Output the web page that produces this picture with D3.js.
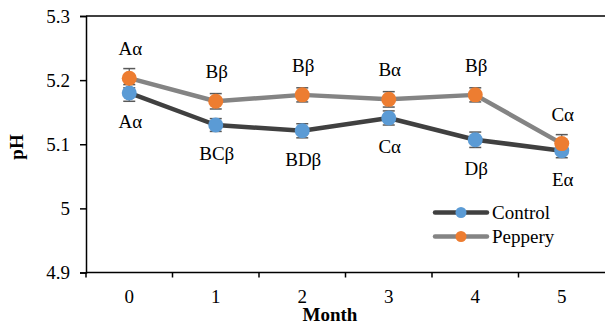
<!DOCTYPE html>
<html>
<head>
<meta charset="utf-8">
<script src="https://cdn.jsdelivr.net/npm/d3@7/dist/d3.min.js"></script>
<style>
  html, body { margin: 0; padding: 0; background: #fff; }
  svg { display: block; }
  svg text { font-family: "Liberation Serif", "DejaVu Serif", serif; }
</style>
</head>
<body>
<svg id="chart" width="606" height="325"></svg>
<script>
// pH over storage months
const months = ["0", "1", "2", "3", "4", "5"];
const controlPH = [5.180, 5.130, 5.121, 5.141, 5.107, 5.090];
const pepperyPH = [5.203, 5.167, 5.177, 5.170, 5.177, 5.101];
const controlErr = [0.013, 0.010, 0.011, 0.011, 0.012, 0.011];
const pepperyErr = [0.015, 0.012, 0.011, 0.012, 0.011, 0.014];
const controlLetters = ["Aα", "BCβ", "BDβ", "Cα", "Dβ", "Eα"];
const pepperyLetters = ["Aα", "Bβ", "Bβ", "Bα", "Bβ", "Cα"];
const yTicks = [4.9, 5, 5.1, 5.2, 5.3];

const FONT = "Liberation Serif, DejaVu Serif, serif";
const FS = 19;

const svg = d3.select("#chart");
const margin = { left: 86, top: 16, right: 1, bottom: 52.5 };
const W = 606, H = 325;

const x = d3.scaleBand().domain(months).range([margin.left, W - margin.right]);
const y = d3.scaleLinear().domain([4.9, 5.3]).range([H - margin.bottom, margin.top]);

// plot frame: top edge
svg.append("line")
  .attr("x1", margin.left).attr("x2", W - margin.right)
  .attr("y1", y(5.3)).attr("y2", y(5.3))
  .attr("stroke", "#000").attr("stroke-width", 1.5);

// y axis
const yAxis = svg.append("g")
  .attr("transform", `translate(${margin.left},0)`)
  .attr("font-family", FONT)
  .call(d3.axisLeft(y).tickValues(yTicks).tickSize(6).tickPadding(10)
    .tickFormat(d => d3.format("")(+d.toFixed(1))));
yAxis.attr("font-family", FONT).attr("font-size", FS);
yAxis.select(".domain").attr("stroke", "#000").attr("stroke-width", 1.5);
yAxis.selectAll(".tick line").attr("stroke", "#000").attr("stroke-width", 1.5);
yAxis.selectAll("text").attr("font-size", FS).attr("fill", "#000")
  .attr("font-family", FONT).attr("dy", "0.33em");

// x axis with ticks on category boundaries
const xAxisG = svg.append("g")
  .attr("transform", `translate(0,${y(4.9)})`);
xAxisG.append("line")
  .attr("x1", margin.left).attr("x2", W - margin.right)
  .attr("stroke", "#000").attr("stroke-width", 1.5);
const bounds = months.map(m => x(m)).concat([x(months[months.length - 1]) + x.bandwidth()]);
xAxisG.selectAll("line.tk").data(bounds.slice(0, -1)).join("line")
  .attr("class", "tk")
  .attr("x1", d => d).attr("x2", d => d)
  .attr("y1", 0).attr("y2", 5)
  .attr("stroke", "#000").attr("stroke-width", 1.5);
xAxisG.selectAll("text").data(months).join("text")
  .attr("x", d => x(d) + x.bandwidth() / 2)
  .attr("y", 30.5)
  .attr("text-anchor", "middle")
  .attr("font-family", FONT)
  .attr("font-size", FS)
  .text(d => d);

// axis titles
svg.append("text")
  .attr("x", 330)
  .attr("y", 321)
  .attr("text-anchor", "middle")
  .attr("font-family", FONT)
  .attr("font-size", FS).attr("font-weight", "bold")
  .text("Month");
svg.append("text")
  .attr("transform", `translate(23,147) rotate(-90)`)
  .attr("text-anchor", "middle")
  .attr("font-family", FONT)
  .attr("font-size", FS).attr("font-weight", "bold")
  .text("pH");

const cx = m => x(m) + x.bandwidth() / 2;

const series = [
  { name: "Control", vals: controlPH, err: controlErr, line: "#404040", dot: "#5B9BD5", labels: controlLetters, above: false },
  { name: "Peppery", vals: pepperyPH, err: pepperyErr, line: "#848484", dot: "#ED7D31", labels: pepperyLetters, above: true }
];

const lineGen = d3.line().x((d, i) => cx(months[i])).y(d => y(d));

series.forEach(s => {
  svg.append("path")
    .datum(s.vals)
    .attr("d", lineGen)
    .attr("fill", "none")
    .attr("stroke", s.line)
    .attr("stroke-width", 4.5)
    .attr("stroke-linejoin", "round");
});

// error bars
series.forEach(s => {
  const g = svg.append("g");
  s.vals.forEach((v, i) => {
    const xc = cx(months[i]);
    const hi = y(v + s.err[i]), lo = y(v - s.err[i]);
    g.append("line").attr("x1", xc).attr("x2", xc).attr("y1", hi).attr("y2", lo)
      .attr("stroke", "#595959").attr("stroke-width", 1.2);
    [hi, lo].forEach(yy => g.append("line")
      .attr("x1", xc - 6).attr("x2", xc + 6).attr("y1", yy).attr("y2", yy)
      .attr("stroke", "#595959").attr("stroke-width", 1.5));
  });
});

// markers
series.forEach(s => {
  svg.append("g").selectAll("circle").data(s.vals).join("circle")
    .attr("cx", (d, i) => cx(months[i]))
    .attr("cy", d => y(d))
    .attr("r", 7.5)
    .attr("fill", s.dot);
});

// significance letters
series.forEach(s => {
  svg.append("g").selectAll("text").data(s.labels).join("text")
    .attr("x", (d, i) => cx(months[i]) + 1)
    .attr("y", (d, i) => s.above ? y(s.vals[i]) - 23 : y(s.vals[i]) + 35)
    .attr("text-anchor", "middle")
    .attr("font-family", FONT)
    .attr("font-size", FS)
    .text(d => d);
});

// legend
const legend = svg.append("g");
series.forEach((s, i) => {
  const ly = 212.5 + i * 24;
  legend.append("line")
    .attr("x1", 435).attr("x2", 487).attr("y1", ly).attr("y2", ly)
    .attr("stroke", s.line).attr("stroke-width", 4.5).attr("stroke-linecap", "round");
  legend.append("circle").attr("cx", 461).attr("cy", ly).attr("r", 5.5).attr("fill", s.dot);
  legend.append("text")
    .attr("x", 492).attr("y", ly + 6.5)
    .attr("font-family", FONT)
    .attr("font-size", FS)
    .text(s.name);
});
</script>
</body>
</html>
